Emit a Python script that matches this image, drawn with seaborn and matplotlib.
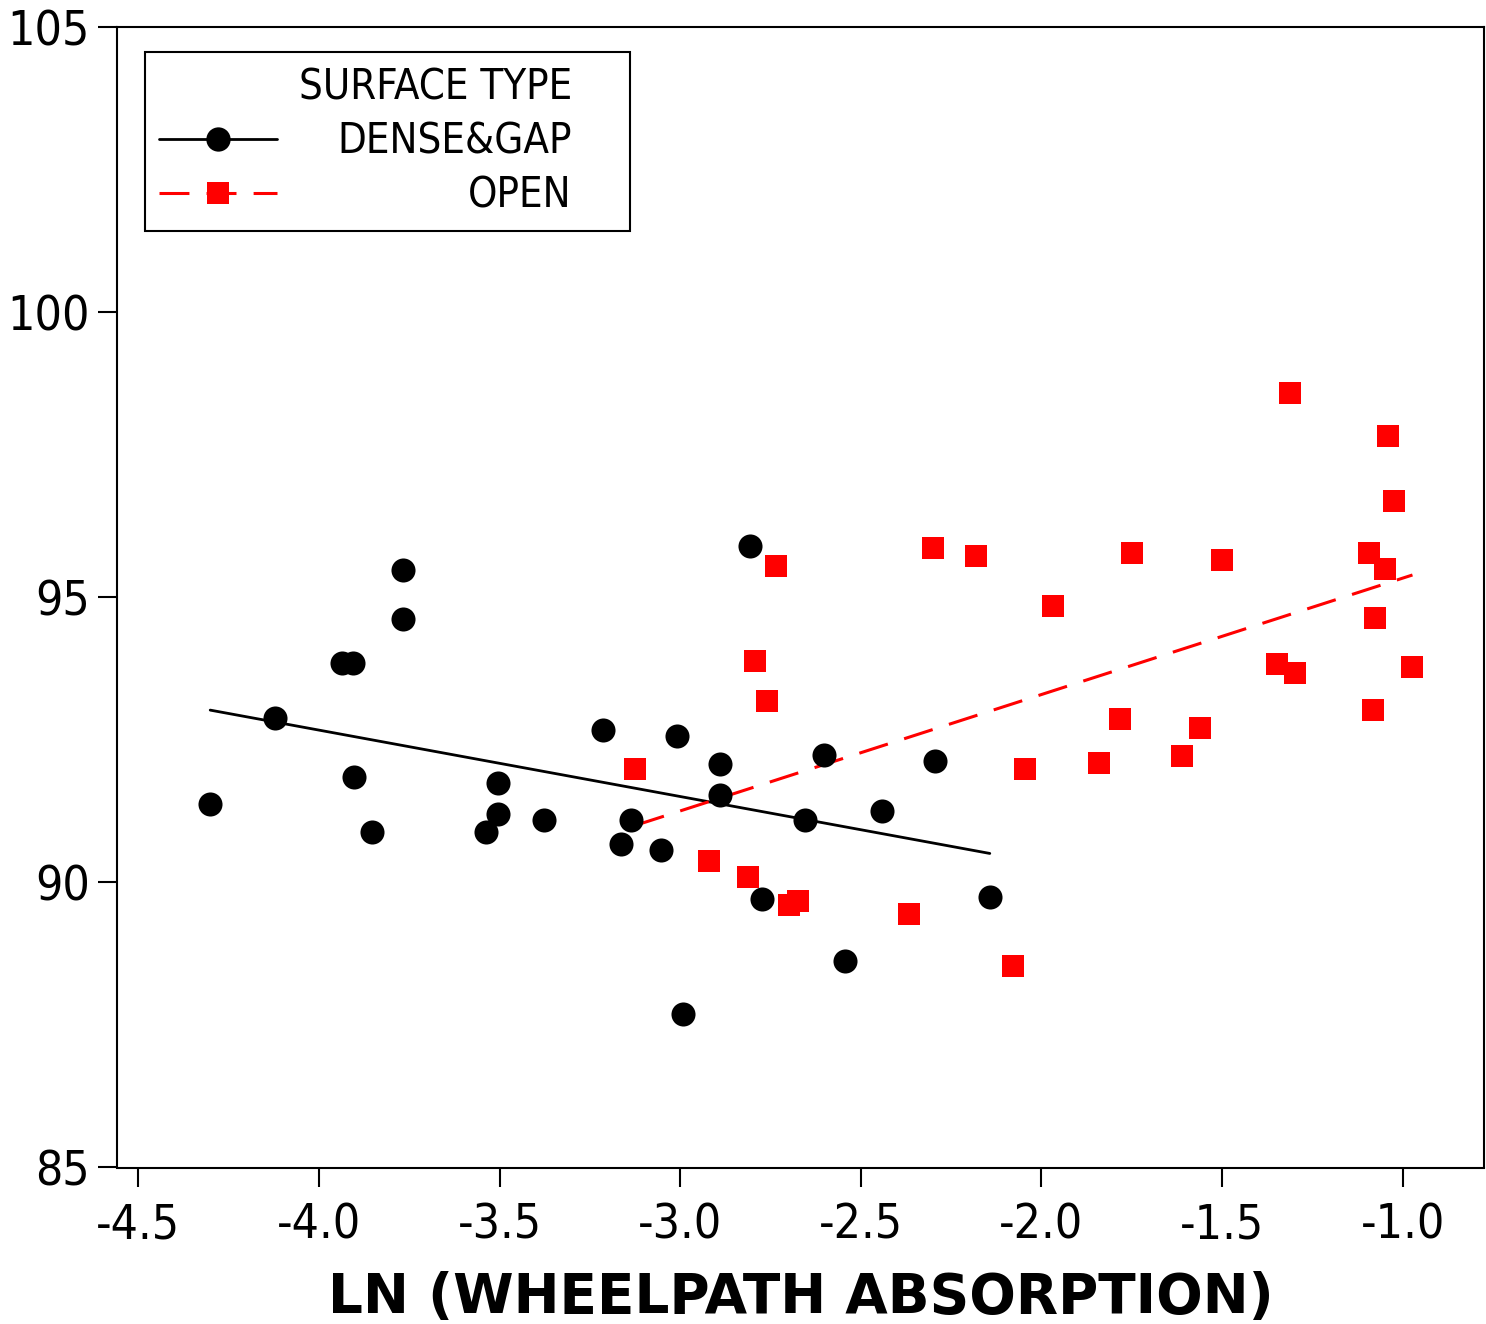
import numpy as np
import pandas as pd
import seaborn as sns
import matplotlib.pyplot as plt
from matplotlib.lines import Line2D
from matplotlib.offsetbox import HPacker, DrawingArea

# ---------------- data ----------------
dense_x = [-4.301, -4.123, -3.937, -3.905, -3.766, -3.766, -3.903, -3.852, -3.537, -3.503,
           -3.503, -3.376, -3.214, -3.163, -3.137, -3.052, -3.010, -2.993, -2.891, -2.891,
           -2.806, -2.773, -2.654, -2.603, -2.543, -2.442, -2.296, -2.143]
dense_y = [91.37, 92.88, 93.85, 93.85, 95.47, 94.61, 91.85, 90.88, 90.88, 91.75,
           91.20, 91.10, 92.67, 90.67, 91.10, 90.56, 92.56, 87.70, 92.07, 91.53,
           95.90, 89.70, 91.10, 92.23, 88.62, 91.26, 92.13, 89.75]

open_x = [-3.124, -2.921, -2.811, -2.794, -2.760, -2.734, -2.700, -2.674, -2.368, -2.300,
          -2.182, -2.080, -2.046, -1.968, -1.841, -1.782, -1.748, -1.612, -1.561, -1.501,
          -1.348, -1.313, -1.297, -1.092, -1.083, -1.076, -1.049, -1.041, -1.024, -0.973]
open_y = [91.99, 90.37, 90.10, 93.88, 93.18, 95.55, 89.61, 89.67, 89.45, 95.87,
          95.72, 88.54, 91.99, 94.85, 92.10, 92.86, 95.77, 92.21, 92.70, 95.66,
          93.83, 98.58, 93.67, 95.77, 93.02, 94.63, 95.50, 97.82, 96.69, 93.77]

x_ticks = [-4.5, -4.0, -3.5, -3.0, -2.5, -2.0, -1.5, -1.0]
x_tick_labels = ["-4.5", "-4.0", "-3.5", "-3.0", "-2.5", "-2.0", "-1.5", "-1.0"]
y_ticks = [85, 90, 95, 100, 105]
y_tick_labels = ["85", "90", "95", "100", "105"]
legend_title = "SURFACE TYPE"
series_labels = ["DENSE&GAP", "OPEN"]
x_label = "LN (WHEELPATH ABSORPTION)"

# ---------------- style ----------------
sns.set_theme(style="ticks")
plt.rcParams['font.family'] = ['DejaVu Sans']
plt.rcParams['font.stretch'] = 'condensed'
plt.rcParams.update({
    'axes.unicode_minus': False,
    'axes.edgecolor': 'black',
    'axes.linewidth': 1.5,
    'xtick.color': 'black', 'ytick.color': 'black',
    'xtick.labelcolor': 'black', 'ytick.labelcolor': 'black',
    'text.color': 'black', 'axes.labelcolor': 'black',
    'xtick.major.size': 13.7, 'ytick.major.size': 13.7,
    'xtick.major.width': 1.5, 'ytick.major.width': 1.5,
    'xtick.direction': 'out', 'ytick.direction': 'out',
})

W, H, DPI = 1486, 1324, 100
PT = DPI / 72.0
fig = plt.figure(figsize=(W / DPI, H / DPI), dpi=DPI)
L, R, T, B = 117, 1484, 27, 1167.5
ax = fig.add_axes([L / W, 1 - B / H, (R - L) / W, (B - T) / H])

dense = pd.DataFrame({'x': dense_x, 'y': dense_y})
opn = pd.DataFrame({'x': open_x, 'y': open_y})

dash = (0, (9.8, 5.6))
sns.regplot(data=dense, x='x', y='y', ax=ax, ci=None, truncate=True, marker='o',
            color='black',
            scatter_kws={'s': 300, 'linewidths': 0, 'alpha': 1, 'zorder': 3},
            line_kws={'lw': 2.0, 'zorder': 2})
sns.regplot(data=opn, x='x', y='y', ax=ax, ci=None, truncate=True, marker='s',
            color='#ff0000',
            scatter_kws={'s': 235, 'linewidths': 0, 'alpha': 1, 'zorder': 3},
            line_kws={'lw': 2.2, 'ls': dash, 'zorder': 2})

ax.set_xlim(-4.559, -0.775)
ax.set_ylim(85, 105)
ax.set_xticks(x_ticks)
ax.set_xticklabels(x_tick_labels, fontsize=34.5)
ax.set_yticks(y_ticks)
ax.set_yticklabels(y_tick_labels, fontsize=34.5)
ax.tick_params(axis='x', pad=11)
ax.tick_params(axis='y', pad=6)
ax.set_ylabel('')
ax.set_xlabel(x_label, fontsize=39.5, fontweight='bold', fontstretch='normal', labelpad=16)
for s in ax.spines.values():
    s.set_visible(True)
    s.set_linewidth(1.5)
    s.set_color('black')

# ---------------- legend ----------------
FS = 30
h_dense = Line2D([], [], color='black', lw=2.0, marker='o', markersize=17.5, markeredgewidth=0)
h_open = Line2D([], [], color='#ff0000', lw=2.2, ls=dash, marker='s', markersize=15.5,
                markeredgewidth=0)
E = FS * PT
bp = 14 / E
leg = ax.legend([h_dense, h_open], series_labels, title=legend_title,
                loc='upper left',
                bbox_to_anchor=((145 - L) / (R - L), 1 - (52 - T) / (B - T)),
                borderaxespad=0, frameon=True, fancybox=False, framealpha=1,
                edgecolor='black', fontsize=FS, title_fontsize=FS,
                handlelength=118 / E, borderpad=bp, labelspacing=0.3,
                handletextpad=0.5, alignment='right')
leg.get_frame().set_linewidth(1.5)

fig.canvas.draw()
renderer = fig.canvas.get_renderer()
rows = leg._legend_handle_box.get_children()[0].get_children()
for row, txt in zip(rows, leg.get_texts()):
    w = txt.get_window_extent(renderer).width
    row.sep = (295 - w) / PT
extra = (485 - 2 * bp * E - 118 - 295) / PT
orig_box = leg._legend_box
new_box = HPacker(pad=0, sep=0, align='top', children=[orig_box, DrawingArea(extra, 1)])
new_box.set_figure(fig)
new_box.axes = ax
new_box.set_offset(leg._findoffset)
leg._legend_box = new_box

fig.savefig('out.png', dpi=DPI)
